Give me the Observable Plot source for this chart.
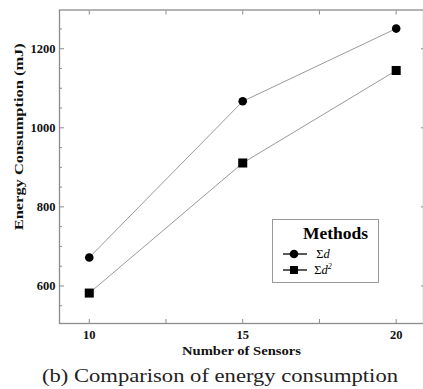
<!DOCTYPE html>
<html><head><meta charset="utf-8">
<script src="https://cdn.jsdelivr.net/npm/d3@7"></script>
<script src="https://cdn.jsdelivr.net/npm/@observablehq/plot@0.6"></script>
<style>
body{margin:0;background:#fff;}
#chart svg{display:block;}
</style></head><body>
<div id="chart"></div>
<script>
const sensors = [10, 15, 20];
const sumD = [672, 1067, 1251];
const sumD2 = [582, 911, 1145];
const xMajorTicks = [10, 15, 20];
const xAllTicks = [10, 12.5, 15, 17.5, 20];
const yMajorTicks = [600, 800, 1000, 1200];
const yMinorTicks = [550, 650, 700, 750, 850, 900, 950, 1050, 1100, 1150, 1250];
const seriesNames = ["Σd", "Σd2"];
const xLabel = "Number of Sensors";
const yLabel = "Energy Consumption (mJ)";
const legendTitle = "Methods";
const caption = "(b) Comparison of energy consumption";

const rowsD = sensors.map((s, i) => ({sensors: s, energy: sumD[i]}));
const rowsD2 = sensors.map((s, i) => ({sensors: s, energy: sumD2[i]}));
const font = "'Liberation Serif', 'Times New Roman', serif";
const W = 423, H = 362;
const frameColor = "#8c8c8c";
const blank = () => "";

const chart = Plot.plot({
  width: W, height: H,
  marginLeft: 59, marginRight: 0, marginTop: 9.5, marginBottom: 39,
  style: {fontFamily: font, background: "#fff", color: "#111"},
  x: {domain: [9.03, 20.89]},
  y: {domain: [505, 1298]},
  marks: [
    Plot.frame({stroke: frameColor, strokeWidth: 1.3}),
    // tick labels
    Plot.axisX(xMajorTicks, {anchor: "bottom", tickSize: 0, tickPadding: 7, fontSize: 12.5, fontWeight: "bold", tickFormat: "d", label: null}),
    Plot.axisY(yMajorTicks, {anchor: "left", tickSize: 0, tickPadding: 4, fontSize: 12.5, fontWeight: "bold", tickFormat: "d", label: null}),
    // inward ticks
    Plot.axisX(xAllTicks, {anchor: "bottom", tickSize: -4, tickFormat: blank, label: null, stroke: frameColor}),
    Plot.axisX(xAllTicks, {anchor: "top", tickSize: -4, tickFormat: blank, label: null, stroke: frameColor}),
    Plot.axisY(yMajorTicks, {anchor: "left", tickSize: -5, tickFormat: blank, label: null, stroke: frameColor}),
    Plot.axisY(yMinorTicks, {anchor: "left", tickSize: -3, tickFormat: blank, label: null, stroke: frameColor}),
    Plot.axisY(yMajorTicks, {anchor: "right", tickSize: -3, tickFormat: blank, label: null, stroke: frameColor}),
    // axis titles
    Plot.text([xLabel], {frameAnchor: "bottom", dy: 31, text: d => d, fontSize: 13, fontWeight: "bold", fill: "#111"}),
    Plot.text([yLabel], {frameAnchor: "left", dx: -41, dy: 63.5, rotate: -90, textAnchor: "start", text: d => d, fontSize: 13, fontWeight: "bold", fill: "#111"}),
    // data
    Plot.line(rowsD, {x: "sensors", y: "energy", stroke: "#9a9a9a", strokeWidth: 1}),
    Plot.line(rowsD2, {x: "sensors", y: "energy", stroke: "#9a9a9a", strokeWidth: 1}),
    Plot.dot(rowsD, {x: "sensors", y: "energy", r: 4.3, symbol: "circle", fill: "#000", stroke: "none"}),
    Plot.dot(rowsD2, {x: "sensors", y: "energy", r: 5.1, symbol: "square", fill: "#000", stroke: "none"})
  ]
});
document.getElementById("chart").appendChild(chart);

const svg = d3.select(chart);
// stretch axis titles to reference widths
svg.selectAll("text").each(function() {
  const t = this.textContent;
  if (t === xLabel) d3.select(this).attr("textLength", 119).attr("lengthAdjust", "spacingAndGlyphs");
  if (t === yLabel) d3.select(this).attr("textLength", 187).attr("lengthAdjust", "spacingAndGlyphs");
});

// legend
const lg = svg.append("g").attr("font-family", font);
lg.append("rect").attr("x", 272.5).attr("y", 219.5).attr("width", 106).attr("height", 63)
  .attr("fill", "#fff").attr("stroke", "#999").attr("stroke-width", 1);
lg.append("text").attr("x", 335.5).attr("y", 239).attr("text-anchor", "middle")
  .attr("font-size", 17.5).attr("font-weight", "bold").attr("fill", "#000").text(legendTitle);
const entryY = [254, 270];
const symbols = [d3.symbolCircle, d3.symbolSquare];
const sizes = [Math.PI * 4.3 * 4.3, 8 * 8];
entryY.forEach((yy, i) => {
  lg.append("line").attr("x1", 283).attr("x2", 307).attr("y1", yy).attr("y2", yy)
    .attr("stroke", "#000").attr("stroke-width", 1.3);
  lg.append("path").attr("transform", `translate(294,${yy})`)
    .attr("d", d3.symbol(symbols[i], sizes[i])()).attr("fill", "#000");
  const t = lg.append("text").attr("x", 323).attr("y", yy + 4).attr("font-size", 12.5).attr("fill", "#000");
  t.append("tspan").text(seriesNames[i][0]);
  t.append("tspan").attr("font-style", "italic").text(seriesNames[i][1]);
  if (seriesNames[i].length > 2) {
    t.append("tspan").attr("font-style", "italic").attr("font-size", 8).attr("dy", -5).text(seriesNames[i].slice(2));
  }
});

// caption below the chart
const cap = d3.select("body").append("svg").attr("width", W).attr("height", 27).style("display", "block");
cap.append("text").attr("x", 42).attr("y", 20).attr("font-family", font).attr("font-size", 18.5)
  .attr("fill", "#222").attr("textLength", 356).attr("lengthAdjust", "spacingAndGlyphs").text(caption);
</script>
</body></html>
